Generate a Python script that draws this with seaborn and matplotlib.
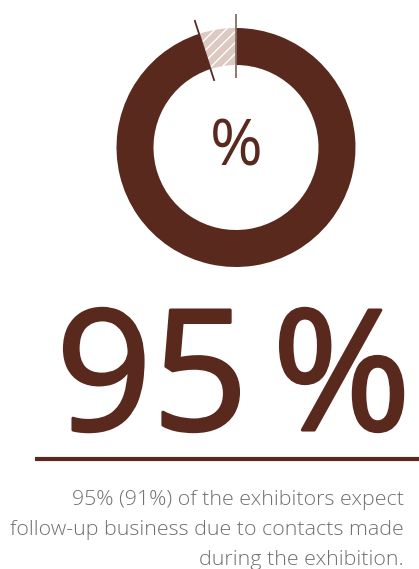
import matplotlib
matplotlib.use("Agg")
import matplotlib.pyplot as plt
import matplotlib.patheffects as pe
import numpy as np
import seaborn as sns

# Data
segments = ["expect follow-up business", "do not"]
shares = [95, 5]
previous_share = 91
caption_lines = [
    f"{shares[0]}% ({previous_share}%) of the exhibitors expect",
    "follow-up business due to contacts made",
    "during the exhibition.",
]

sns.set_theme(style="white")
plt.rcParams["font.family"] = ["Open Sans", "DejaVu Sans"]
plt.rcParams["hatch.linewidth"] = 1.0

brown = "#59291e"
light = "#dccac2"
grey = "#707070"

W, H = 419, 569
fig = plt.figure(figsize=(W / 100, H / 100), dpi=100)
ax = fig.add_axes([0, 0, 1, 1])

cx, cy = 236, H - 147.5
r_out, ring = 119.5, 37

wedges, _ = ax.pie(
    shares,
    colors=[brown, light],
    startangle=90,
    counterclock=False,
    center=(cx, cy),
    radius=r_out,
    wedgeprops=dict(width=ring, linewidth=0),
)
wedges[1].set_hatch("///")
wedges[1].set_edgecolor("white")
wedges[1].set_linewidth(0)

# boundary ticks of the small segment
gap_start = 90 + 360 * shares[1] / sum(shares)
for ang, col in [(90, "#8d6c64"), (gap_start, brown)]:
    t = np.deg2rad(ang)
    r0, r1 = 70, 134
    ax.plot([cx + r0 * np.cos(t), cx + r1 * np.cos(t)],
            [cy + r0 * np.sin(t), cy + r1 * np.sin(t)],
            color=col, lw=1.3, solid_capstyle="butt")

ax.text(cx, cy - 1, "%", ha="center", va="center", fontsize=46, color=brown)

# headline figure, slightly emboldened
bold = [pe.withStroke(linewidth=2.2, foreground=brown)]
ax.text(56, H - 430, f"{shares[0]}", ha="left", va="baseline",
        fontsize=121, color=brown, path_effects=bold)
ax.text(411, H - 430, "%", ha="right", va="baseline",
        fontsize=121, color=brown, path_effects=bold)

ax.plot([35, 419], [H - 459, H - 459], color=brown, lw=3, solid_capstyle="butt")

for i, line in enumerate(caption_lines):
    ax.text(404, H - 505 - 30 * i, line, ha="right", va="baseline",
            fontsize=15.4, color=grey, fontweight="light")

ax.set_xlim(0, W)
ax.set_ylim(0, H)
ax.axis("off")

fig.savefig("out.png", dpi=100)
